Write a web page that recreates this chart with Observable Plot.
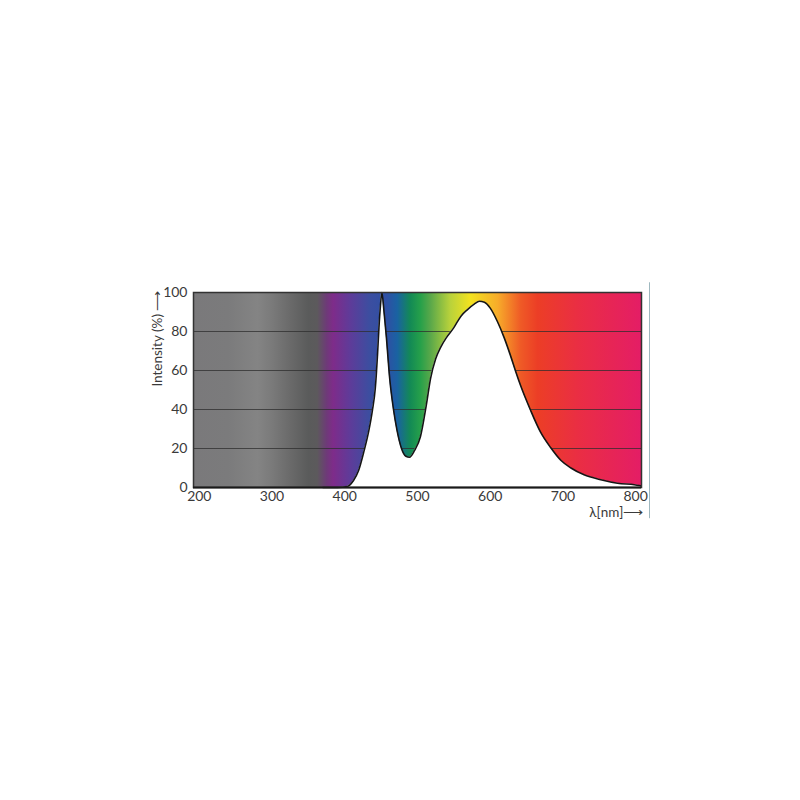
<!DOCTYPE html>
<html>
<head>
<meta charset="utf-8">
<script src="https://cdn.jsdelivr.net/npm/d3@7"></script>
<script src="https://cdn.jsdelivr.net/npm/@observablehq/plot@0.6"></script>
<style>
  html, body { margin: 0; padding: 0; background: #ffffff; }
  #chart svg { display: block; }
</style>
</head>
<body>
<div id="chart"></div>
<script>
// ---- Data ----
const wavelengths = [370, 390, 403, 412, 419, 426, 433, 438, 442, 445, 447, 449, 451, 454, 457, 462, 467, 472, 478, 484, 489, 496, 504, 512, 518, 525, 532, 540, 550, 560, 568, 578, 585, 592, 600, 610, 619, 628, 635, 642, 655, 669, 683, 697, 711, 729, 752, 775, 798, 807];
const intensity   = [0,   0,   0.5, 3.6, 8.7, 18,  29,  39.5, 51, 68,  82,  93,  100, 90,  78,  55,  40,  29,  20,  16,  15.5, 19, 26,  42,  56,  66,  72,  77,  82,  88,  91,  94,  95.5, 95, 92,  85,  77,  67.5, 59.5, 52,  40,  28.5, 20.5, 14, 10,  6.5, 4,   2.2, 1.4, 0.9];

const xTicks = [200, 300, 400, 500, 600, 700, 800];
const yTicks = [0, 20, 40, 60, 80, 100];
const gridValues = [20, 40, 60, 80];
const xDomain = [192, 808];
const yDomain = [0, 100];

// background spectrum colour stops (wavelength in nm -> colour)
const gradientNm =     [192,      240,      280,      300,      325,      350,      362,      375,      384,      407,      434,      458,      472,      490,      504,      518,      545,      573,      610,      642,      665,      720,      808];
const gradientColors = ["#7a797b","#7b7b7c","#848484","#7a7a7a","#6a6a6a","#5a5b5b","#5c5a5c","#6e3a78","#7e2c8a","#5f3b99","#3c4ea0","#2e50a4","#1a62a2","#138a55","#26a04a","#5aa84a","#b9d23b","#f3e21f","#f7ac2a","#ef5a26","#ec3e26","#ea2e43","#e41d66"];

// thin decorative vertical rule to the right of the plot
const sideRuleX = [819];
const sideRuleSpan = [-16, 105];

const yLabel = "Intensity (%) \u27F6";
const xLabel = "\u03BB[nm]\u27F6";

const spectrum = wavelengths.map((w, i) => ({nm: w, v: intensity[i]}));

const chart = Plot.plot({
  width: 800,
  height: 800,
  marginLeft: 193,
  marginRight: 159,
  marginTop: 292,
  marginBottom: 313,
  style: {fontFamily: "Lato, 'Open Sans', sans-serif", fontSize: "14px", color: "#3a3a3a", background: "#ffffff"},
  x: {domain: xDomain},
  y: {domain: yDomain},
  marks: [
    Plot.frame({fill: "url(#specgrad)", stroke: null}),
    Plot.ruleY(gridValues, {stroke: "#2e2e2e", strokeOpacity: 0.75, strokeWidth: 1}),
    Plot.areaY(spectrum, {x: "nm", y: "v", fill: "#ffffff", curve: "monotone-x"}),
    Plot.lineY(spectrum, {x: "nm", y: "v", stroke: "#151515", strokeWidth: 1.6, curve: "monotone-x"}),
    Plot.frame({stroke: "#333333", strokeWidth: 1.5}),
    Plot.ruleY([0], {stroke: "#1a1a1a", strokeWidth: 2}),
    Plot.ruleX(sideRuleX, {y1: sideRuleSpan[0], y2: sideRuleSpan[1], stroke: "#9fb8bf", strokeWidth: 1}),
    Plot.axisX({ticks: xTicks, tickSize: 0, tickPadding: 4, label: null, fontSize: 14}),
    Plot.axisY({ticks: yTicks, tickSize: 0, tickPadding: 6, label: null, fontSize: 14}),
    Plot.text([yLabel], {frameAnchor: "top-left", rotate: -90, textAnchor: "end", lineAnchor: "middle", dx: -36, dy: -2, fontSize: 13.5, fill: "#3a3a3a"}),
    Plot.text([xLabel], {frameAnchor: "bottom-right", textAnchor: "end", lineAnchor: "middle", dx: 2, dy: 25, fontSize: 13.5, fill: "#3a3a3a"})
  ]
});

// build the spectrum gradient from the x scale
const xs = chart.scale("x");
const x0 = xs.apply(xDomain[0]), x1 = xs.apply(xDomain[1]);
const ns = "http://www.w3.org/2000/svg";
const defs = document.createElementNS(ns, "defs");
const grad = document.createElementNS(ns, "linearGradient");
grad.setAttribute("id", "specgrad");
grad.setAttribute("x1", "0"); grad.setAttribute("x2", "1");
grad.setAttribute("y1", "0"); grad.setAttribute("y2", "0");
gradientNm.forEach((nm, i) => {
  const s = document.createElementNS(ns, "stop");
  s.setAttribute("offset", ((xs.apply(nm) - x0) / (x1 - x0)).toFixed(4));
  s.setAttribute("stop-color", gradientColors[i]);
  grad.appendChild(s);
});
defs.appendChild(grad);
chart.insertBefore(defs, chart.firstChild);

document.getElementById("chart").appendChild(chart);
</script>
</body>
</html>
